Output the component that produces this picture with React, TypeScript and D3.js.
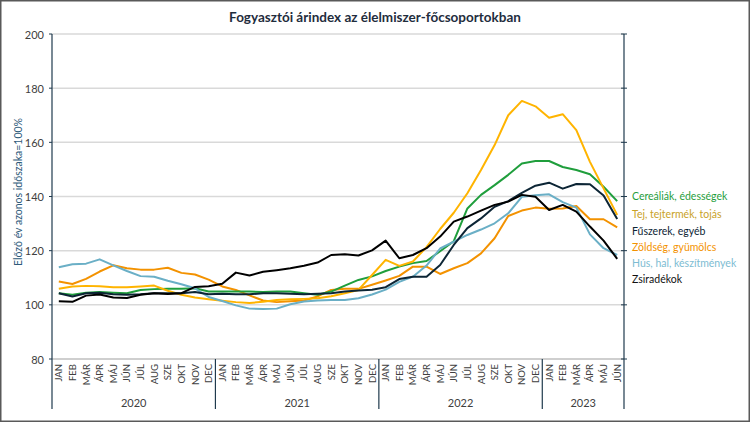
import React from "react";
import * as d3 from "d3";

const monthLabels = ["JAN","FEB","MÁR","ÁPR","MÁJ","JÚN","JÚL","AUG","SZE","OKT","NOV","DEC"];
const years = ["2020", "2021", "2022", "2023"];
const monthsInYear = [12, 12, 12, 6];
const yTicks = [80, 100, 120, 140, 160, 180, 200];

const cerealiak = [
  104.3, 103.7, 104.5, 104.7, 104.5, 104.3, 105.5, 105.8, 105.9, 105.9, 106.1, 104.9,
  104.9, 104.9, 104.9, 104.7, 104.9, 104.9, 104.3, 103.7, 104.9, 107.1, 109.2, 110.5,
  112.5, 114.1, 115.4, 116.2, 119.8, 123.5, 135.6, 140.6, 144.2, 148.0, 152.2, 153.1,
  153.1, 150.9, 149.8, 148.2, 143.6, 138.3,
];
const tej = [
  105.9, 106.8, 107.0, 106.9, 106.5, 106.5, 106.8, 107.1, 105.2, 103.7, 102.7, 102.1,
  101.5, 101.0, 100.7, 101.1, 101.8, 102.1, 102.2, 102.4, 103.2, 104.3, 105.5, 111.0,
  116.6, 114.4, 116.0, 121.3, 128.0, 134.0, 141.2, 149.8, 159.0, 170.0, 175.3, 173.3,
  169.1, 170.4, 164.5, 152.8, 143.0, 133.2,
];
const fuszerek = [
  104.3, 103.1, 104.3, 104.5, 103.9, 103.7, 103.9, 104.3, 104.3, 104.3, 104.7, 103.9,
  104.1, 103.9, 103.9, 104.3, 104.3, 104.1, 103.9, 104.1, 104.3, 104.9, 105.3, 105.6,
  106.5, 109.5, 110.4, 110.4, 114.7, 122.1, 128.3, 131.9, 136.2, 138.3, 141.3, 144.0,
  145.1, 142.9, 144.6, 144.5, 140.4, 131.7,
];
const zoldseg = [
  108.6, 107.7, 109.6, 112.3, 114.6, 113.5, 113.0, 113.0, 113.7, 111.8, 111.2, 109.3,
  106.8, 105.5, 103.5, 101.6, 101.0, 101.3, 101.6, 103.1, 105.5, 105.9, 105.9, 107.4,
  109.0, 110.7, 114.1, 114.1, 111.4, 113.5, 115.4, 119.0, 124.6, 132.8, 134.8, 135.9,
  135.5, 135.6, 136.5, 131.6, 131.6, 128.6,
];
const hus = [
  113.9, 115.0, 115.2, 116.8, 114.6, 112.5, 110.6, 110.4, 108.9, 107.6, 106.1, 102.9,
  101.4, 99.8, 98.6, 98.5, 98.6, 100.2, 101.2, 101.6, 101.8, 101.8, 102.4, 103.8,
  105.6, 108.5, 110.4, 114.5, 120.8, 123.3, 125.8, 127.8, 130.1, 133.8, 139.9, 140.5,
  140.8, 137.9, 135.9, 126.0, 120.9, 118.4,
];
const zsiradekok = [
  101.3, 101.1, 103.4, 103.8, 102.7, 102.5, 103.7, 104.3, 104.0, 104.3, 106.6, 106.9,
  107.8, 111.9, 110.8, 112.2, 112.8, 113.5, 114.4, 115.6, 118.4, 118.7, 118.2, 120.1,
  123.7, 117.2, 118.4, 120.9, 125.2, 130.7, 132.6, 134.8, 136.9, 138.1, 140.6, 139.9,
  135.0, 136.9, 134.4, 128.9, 123.7, 117.0,
];

const seriesNames = [
  "Cereáliák, édességek",
  "Tej, tejtermék, tojás",
  "Fűszerek, egyéb",
  "Zöldség, gyümölcs",
  "Hús, hal, készítmények",
  "Zsiradékok",
];

export default function App() {
  const W = 750, H = 422;
  const left = 52, right = 624, top = 34, bottom = 359;
  const font = "Lato, 'Open Sans', sans-serif";

  const categories: string[] = [];
  years.forEach((yr, yi) => {
    for (let m = 0; m < monthsInYear[yi]; m++) categories.push(yr + "-" + m);
  });

  const x = d3.scaleBand<string>().domain(categories).range([left, right]).padding(0);
  const y = d3.scaleLinear().domain([80, 200]).range([bottom, top]);
  const cx = (i: number) => (x(categories[i]) as number) + x.bandwidth() / 2;

  const line = d3
    .line<number>()
    .x((_, i) => cx(i))
    .y((d) => y(d));

  const series = [
    { name: seriesNames[0], data: cerealiak, color: "#1f9e3c", text: "#1f9e3c" },
    { name: seriesNames[1], data: tej, color: "#ffb400", text: "#c9a227" },
    { name: seriesNames[2], data: fuszerek, color: "#0c2535", text: "#0c2535" },
    { name: seriesNames[3], data: zoldseg, color: "#f39200", text: "#f39200" },
    { name: seriesNames[4], data: hus, color: "#6aafc6", text: "#7dbcd2" },
    { name: seriesNames[5], data: zsiradekok, color: "#000000", text: "#111111" },
  ];
  const drawOrder = [3, 0, 1, 4, 2, 5];
  const legendY = [196, 214, 231, 247, 263, 279];

  const boundaries: number[] = [left];
  let acc = 0;
  monthsInYear.forEach((n) => {
    acc += n;
    const idx = acc - 1;
    boundaries.push((x(categories[idx]) as number) + x.bandwidth());
  });

  return (
    <svg width={W} height={H} style={{ position: "absolute", left: 0, top: 0, background: "#fff" }}>
      <rect x={0.75} y={0.75} width={W - 1.5} height={H - 1.5} fill="#fff" stroke="#595959" strokeWidth={1.5} />
      <text x={375} y={17} textAnchor="middle" dominantBaseline="central" fontFamily={font} fontWeight="bold" fontSize={13.5} fill="#1f2d3d">
        Fogyasztói árindex az élelmiszer-főcsoportokban
      </text>

      {yTicks.filter((t) => t > 80).map((t) => (
        <line key={"g" + t} x1={left} x2={right} y1={y(t)} y2={y(t)} stroke="#d9d9d9" strokeWidth={1.5} />
      ))}
      <line x1={left} x2={right} y1={y(80)} y2={y(80)} stroke="#bfbfbf" strokeWidth={1.5} />

      {yTicks.map((t) => (
        <g key={"t" + t}>
          <text x={44} y={y(t)} textAnchor="end" dominantBaseline="central" fontFamily={font} fontSize={11} fill="#404040">
            {t}
          </text>
          <line x1={49} x2={left} y1={y(t)} y2={y(t)} stroke="#1f3a4d" strokeWidth={1} />
          <line x1={right - 3} x2={right + 3} y1={y(t)} y2={y(t)} stroke="#1f3a4d" strokeWidth={1} />
        </g>
      ))}
      <text
        transform={`translate(18, 192) rotate(-90)`}
        textAnchor="middle"
        dominantBaseline="central"
        fontFamily={font}
        fontSize={10.5}
        fill="#2e5a7a"
      >
        Előző év azonos időszaka=100%
      </text>

      <line x1={left} x2={left} y1={top} y2={bottom} stroke="#1f3a4d" strokeWidth={1.2} />
      <line x1={right} x2={right} y1={top} y2={bottom} stroke="#1f3a4d" strokeWidth={1.2} />

      {drawOrder.map((si) => (
        <path key={"s" + si} d={line(series[si].data) || ""} fill="none" stroke={series[si].color} strokeWidth={2} strokeLinejoin="round" />
      ))}

      {categories.map((c, i) => {
        const m = Number(c.split("-")[1]);
        return (
          <text
            key={"x" + i}
            transform={`translate(${cx(i)}, 364) rotate(-90)`}
            textAnchor="end"
            dominantBaseline="central"
            fontFamily={font}
            fontSize={9.5}
            fill="#404040"
          >
            {monthLabels[m]}
          </text>
        );
      })}
      {boundaries.map((b, i) => (
        <line key={"b" + i} x1={b} x2={b} y1={bottom} y2={409} stroke="#1f3a4d" strokeWidth={1.2} />
      ))}
      {years.map((yr, i) => (
        <text key={"y" + yr} x={(boundaries[i] + boundaries[i + 1]) / 2} y={402} textAnchor="middle" dominantBaseline="central" fontFamily={font} fontSize={11} fill="#404040">
          {yr}
        </text>
      ))}

      {series.map((s, i) => (
        <text key={"l" + i} x={632} y={legendY[i]} dominantBaseline="central" fontFamily={font} fontSize={10.5} fill={s.text}>
          {s.name}
        </text>
      ))}
    </svg>
  );
}
